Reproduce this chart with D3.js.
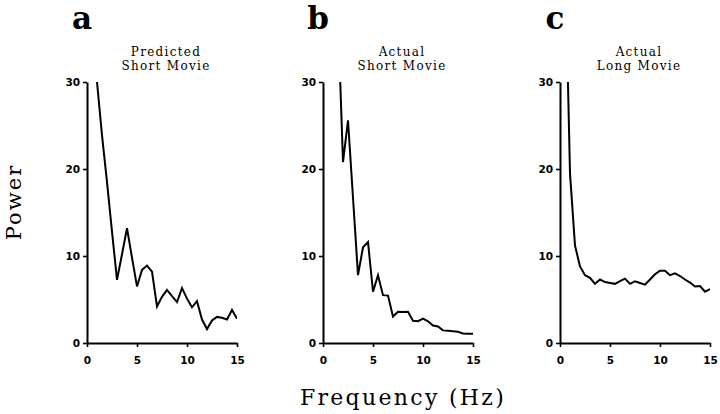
<!DOCTYPE html>
<html>
<head>
<meta charset="utf-8">
<style>
  body { margin: 0; background: #fff; }
  svg { display: block; }
</style>
</head>
<body>
<div id="container"></div>
<script src="https://d3js.org/d3.v7.min.js"></script>
<script>
// Values (power spectra, 0.5 Hz spacing)
const freqA = [1, 1.5, 2, 2.5, 3, 3.5, 4, 4.5, 5, 5.5, 6, 6.5, 7, 7.5, 8, 8.5, 9, 9.5, 10, 10.5, 11, 11.5, 12, 12.5, 13, 13.5, 14, 14.5, 15];
const powerA = [30, 23.9, 18.5, 12.8, 7.25, 10.2, 13.2, 9.8, 6.5, 8.4, 8.9, 8.2, 4.2, 5.3, 6.1, 5.4, 4.7, 6.3, 5.1, 4.1, 4.8, 2.7, 1.6, 2.6, 3.0, 2.9, 2.7, 3.8, 2.8];

const freqB = [1.5, 2, 2.5, 3, 3.5, 4, 4.5, 5, 5.5, 6, 6.5, 7, 7.5, 8, 8.5, 9, 9.5, 10, 10.5, 11, 11.5, 12, 12.5, 13, 13.5, 14, 14.5, 15];
const powerB = [37.5, 20.8, 25.6, 16.7, 7.8, 11.0, 11.6, 5.9, 7.8, 5.5, 5.45, 3.05, 3.6, 3.55, 3.6, 2.55, 2.5, 2.8, 2.5, 2.0, 1.9, 1.45, 1.4, 1.35, 1.3, 1.1, 1.05, 1.05];

const freqC = [0.5, 1, 1.5, 2, 2.5, 3, 3.5, 4, 4.5, 5, 5.5, 6, 6.5, 7, 7.5, 8, 8.5, 9, 9.5, 10, 10.5, 11, 11.5, 12, 12.5, 13, 13.5, 14, 14.5, 15];
const powerC = [45, 19.5, 11.2, 8.8, 7.8, 7.5, 6.8, 7.3, 7.0, 6.9, 6.8, 7.1, 7.4, 6.8, 7.1, 6.9, 6.7, 7.3, 7.9, 8.3, 8.3, 7.8, 8.0, 7.7, 7.3, 6.95, 6.5, 6.55, 5.9, 6.2];

const panelLetters = ["a", "b", "c"];
const titleTop = ["Predicted", "Actual", "Actual"];
const titleBottom = ["Short Movie", "Short Movie", "Long Movie"];
const xTicks = [0, 5, 10, 15];
const yTicks = [0, 10, 20, 30];

const width = 720;
const height = 414;
const marginTop = 82;
const marginBottom = 71;
const panelLeft = [87, 323, 560];
const panelWidth = 150;

const svg = d3.select("#container").append("svg")
    .attr("width", width)
    .attr("height", height);

const y = d3.scaleLinear()
    .domain([0, 30])
    .range([height - marginBottom, marginTop]);

const series = [
  freqA.map((f, i) => ({f, p: powerA[i]})),
  freqB.map((f, i) => ({f, p: powerB[i]})),
  freqC.map((f, i) => ({f, p: powerC[i]}))
];

series.forEach((data, k) => {
  const x = d3.scaleLinear()
      .domain([0, 15])
      .range([panelLeft[k], panelLeft[k] + panelWidth]);

  const g = svg.append("g");

  // clip so the spike above 30 is cut at the top of the axis
  svg.append("clipPath")
      .attr("id", "clip" + k)
    .append("rect")
      .attr("x", x(0))
      .attr("y", y(30))
      .attr("width", panelWidth)
      .attr("height", y(0) - y(30));

  g.append("g")
      .attr("transform", `translate(0,${y(0)})`)
      .call(d3.axisBottom(x).tickValues(xTicks).tickSize(4).tickSizeOuter(0).tickPadding(10))
      .call(g => g.select(".domain").attr("stroke-width", 2))
      .call(g => g.selectAll(".tick line").attr("stroke-width", 1.6))
      .call(g => g.selectAll("text")
          .attr("font-family", "DejaVu Sans")
          .attr("font-weight", "bold")
          .attr("font-size", 10.5)
          .attr("fill", "#000"));

  g.append("g")
      .attr("transform", `translate(${x(0)},0)`)
      .call(d3.axisLeft(y).tickValues(yTicks).tickSize(4).tickSizeOuter(0).tickPadding(3))
      .call(g => g.select(".domain").attr("stroke-width", 2))
      .call(g => g.selectAll(".tick line").attr("stroke-width", 1.6))
      .call(g => g.selectAll("text")
          .attr("font-family", "DejaVu Sans")
          .attr("font-weight", "bold")
          .attr("font-size", 10.5)
          .attr("fill", "#000"));

  const line = d3.line()
      .x(d => x(d.f))
      .y(d => y(d.p));

  g.append("path")
      .attr("clip-path", `url(#clip${k})`)
      .attr("fill", "none")
      .attr("stroke", "#000")
      .attr("stroke-width", 2)
      .attr("stroke-linejoin", "miter")
      .attr("d", line(data));

  // panel letter
  g.append("text")
      .attr("x", x(0) - 5)
      .attr("y", 29)
      .attr("text-anchor", "middle")
      .attr("font-family", "DejaVu Serif")
      .attr("font-weight", "bold")
      .attr("font-size", 31)
      .text(panelLetters[k]);

  const cx = x(7.5) + 4;
  g.append("text")
      .attr("x", cx)
      .attr("y", 56)
      .attr("text-anchor", "middle")
      .attr("font-family", "DejaVu Serif")
      .attr("font-size", 12)
      .attr("letter-spacing", 1.3)
      .text(titleTop[k]);
  g.append("text")
      .attr("x", cx)
      .attr("y", 70)
      .attr("text-anchor", "middle")
      .attr("font-family", "DejaVu Serif")
      .attr("font-size", 12)
      .attr("letter-spacing", 1.3)
      .text(titleBottom[k]);
});

svg.append("text")
    .attr("transform", "translate(21,202) rotate(-90)")
    .attr("text-anchor", "middle")
    .attr("font-family", "DejaVu Serif")
    .attr("font-size", 21)
    .attr("letter-spacing", 2)
    .text("Power");

svg.append("text")
    .attr("x", 403)
    .attr("y", 405)
    .attr("text-anchor", "middle")
    .attr("font-family", "DejaVu Serif")
    .attr("font-size", 22)
    .attr("letter-spacing", 2.3)
    .text("Frequency (Hz)");
</script>
</body>
</html>
